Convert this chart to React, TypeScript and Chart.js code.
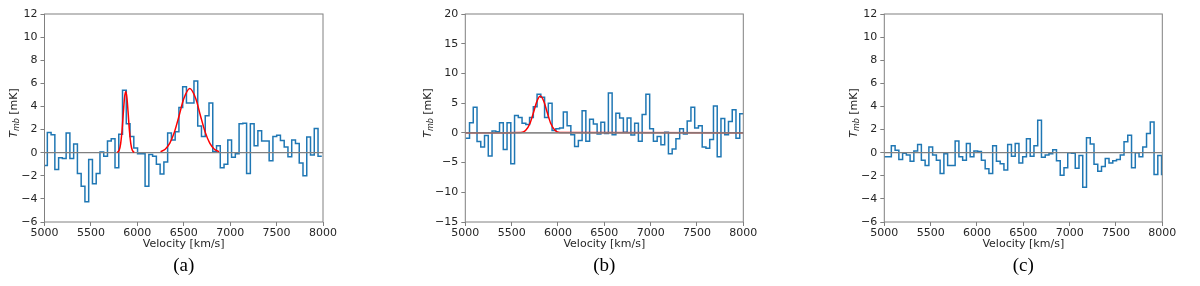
import React, { useEffect, useRef } from "react";
import { Chart, registerables } from "chart.js";

Chart.register(...registerables);

// ---------------- data ----------------
const velocityTicks = [5000, 5500, 6000, 6500, 7000, 7500, 8000];
const velMin = 5000;
const velMax = 8000;
const channelWidth = 40.5; // km/s per spectral channel

// first channel left edge (km/s)
const channelStartA = 4990;
const channelStartB = 5005;
const channelStartC = 4995;

// Tmb [mK] per channel
const tmbA = [
  -1.1, 1.75, 1.55, -1.45, -0.45, -0.5, 1.7, -0.5, 0.75, -1.8,
  -2.9, -4.25, -0.6, -2.7, -1.8, 0.05, -0.3, 1.0, 1.2, -1.3,
  1.6, 5.4, 2.5, 1.4, 0.4, -0.1, -0.1, -2.9, -0.15, -0.3,
  -1.0, -1.85, -0.8, 1.7, 1.1, 1.8, 3.9, 5.7, 4.3, 4.3,
  6.2, 2.3, 1.4, 3.2, 4.3, 0.1, 0.6, -1.3, -1.0, 1.1,
  -0.4, -0.1, 2.5, 2.55, -1.8, 2.5, 0.6, 1.9, 1.0, 1.0,
  -0.7, 1.4, 1.5, 1.05, 0.5, -0.35, 1.1, 0.8, -0.9, -2.0,
  1.35, -0.2, 2.1, -0.3,
];

const tmbB = [
  -0.9, 1.7, 4.3, -1.45, -2.4, -0.45, -3.9, 0.3, 0.2, 1.7,
  -2.8, 1.7, -5.2, 2.9, 2.6, 1.6, 1.4, 2.6, 4.4, 6.5,
  6.0, 2.6, 5.0, 0.4, 0.7, 0.8, 3.5, 1.2, -0.3, -2.3,
  -1.3, 3.7, -1.4, 2.3, 1.5, -0.2, 1.8, -0.1, 6.7, -0.3,
  3.3, 2.5, 0.1, 2.5, -0.35, 1.6, -1.4, 3.1, 6.5, 0.7,
  -1.4, -0.6, -2.0, 0.1, -3.5, -2.7, -1.0, 0.7, -0.2, 2.0,
  4.3, 0.8, 1.2, -2.4, -2.6, -1.1, 4.5, -4.0, 2.4, -0.3,
  1.9, 3.9, -0.9, 3.2,
];

const tmbC = [
  -0.35, -0.35, 0.6, 0.2, -0.6, -0.05, -0.2, -0.75, 0.15, 0.7,
  -0.65, -1.1, 0.5, -0.2, -0.65, -1.8, -0.1, -1.1, -1.1, 1.0,
  -0.35, -0.65, 0.8, -0.35, 0.15, 0.1, -0.65, -1.4, -1.8, 0.6,
  -0.75, -0.95, -1.5, 0.7, -0.3, 0.8, -0.9, -0.35, 1.2, -0.3,
  0.6, 2.8, -0.4, -0.2, -0.1, 0.25, -0.7, -1.95, -1.3, 0.0,
  -0.05, -1.35, -0.25, -3.0, 1.3, 0.75, -1.0, -1.6, -1.2, -0.5,
  -0.9, -0.7, -0.6, -0.2, 0.95, 1.5, -1.3, 0.0, -0.35, 0.5,
  1.65, 2.65, -1.9, -0.25, -1.9,
];

// Gaussian fit curves
const fitA1Vel = [5785, 5805, 5820, 5835, 5850, 5862, 5875, 5888, 5900, 5915, 5930, 5945, 5965];
const fitA1Tmb = [0.02, 0.23, 0.77, 1.9, 3.55, 4.75, 5.3, 4.75, 3.55, 1.9, 0.77, 0.23, 0.02];
const fitA2Vel = [6250, 6300, 6350, 6400, 6450, 6500, 6565, 6630, 6680, 6730, 6780, 6830, 6880];
const fitA2Tmb = [0.09, 0.3, 0.82, 1.8, 3.2, 4.66, 5.55, 4.66, 3.2, 1.8, 0.82, 0.3, 0.09];
const fitBVel = [5000, 5600, 5650, 5700, 5740, 5770, 5810, 5850, 5880, 5920, 5970, 6020, 8000];
const fitBTmb = [0, 0.05, 0.39, 1.67, 3.65, 5.2, 6.2, 5.2, 3.65, 1.67, 0.39, 0.05, 0];

const yTicksA = [-6, -4, -2, 0, 2, 4, 6, 8, 10, 12];
const yTicksB = [-15, -10, -5, 0, 5, 10, 15, 20];
const yTicksC = [-6, -4, -2, 0, 2, 4, 6, 8, 10, 12];

const captions = ["(a)", "(b)", "(c)"];
const xTitle = "Velocity [km/s]";

// ---------------- styles / layout ----------------
const CANVAS_H = 286;
const PLOT_TOP = 14;
const PLOT_BOTTOM = 222;
const X_AXIS_H = 30;
const AXIS_GRAY = "#808080";
const TEXT_COLOR = "#262626";
const FONT_FAMILY = '"DejaVu Sans", sans-serif';
const STEP_BLUE = "#1f77b4";
const FIT_RED = "#ff0000";

type Fit = { vel: number[]; tmb: number[] };

type PanelCfg = {
  canvasLeft: number;
  canvasWidth: number;
  plotLeft: number;
  plotRight: number;
  yTitleX: number;
  start: number;
  values: number[];
  fits: Fit[];
  yTicks: number[];
  zeroOnTop: boolean;
  caption: string;
};

const panels: PanelCfg[] = [
  {
    canvasLeft: 0, canvasWidth: 350, plotLeft: 44.5, plotRight: 323, yTitleX: 12.5,
    start: channelStartA, values: tmbA,
    fits: [{ vel: fitA1Vel, tmb: fitA1Tmb }, { vel: fitA2Vel, tmb: fitA2Tmb }],
    yTicks: yTicksA, zeroOnTop: false, caption: captions[0],
  },
  {
    canvasLeft: 400, canvasWidth: 370, plotLeft: 65.3, plotRight: 343.3, yTitleX: 26.5,
    start: channelStartB, values: tmbB,
    fits: [{ vel: fitBVel, tmb: fitBTmb }],
    yTicks: yTicksB, zeroOnTop: true, caption: captions[1],
  },
  {
    canvasLeft: 820, canvasWidth: 370, plotLeft: 64.3, plotRight: 342.3, yTitleX: 32.5,
    start: channelStartC, values: tmbC,
    fits: [],
    yTicks: yTicksC, zeroOnTop: false, caption: captions[2],
  },
];

function stepPoints(start: number, values: number[]) {
  const pts = values.map((y, i) => ({ x: start + i * channelWidth, y }));
  pts.push({ x: start + values.length * channelWidth, y: values[values.length - 1] });
  return pts;
}

const frameAndTitlePlugin = {
  id: "frameAndTitle",
  afterDraw(chart: any, _args: any, opts: any) {
    const { ctx, chartArea } = chart;
    ctx.save();
    ctx.strokeStyle = AXIS_GRAY;
    ctx.lineWidth = 1;
    ctx.strokeRect(chartArea.left, chartArea.top, chartArea.right - chartArea.left, chartArea.bottom - chartArea.top);
    ctx.restore();

    // y-axis title: T_mb [mK]
    const cy = 113;
    ctx.save();
    ctx.translate(opts.x, cy);
    ctx.rotate(-Math.PI / 2);
    ctx.fillStyle = TEXT_COLOR;
    ctx.textBaseline = "alphabetic";
    const big = `italic 11px ${FONT_FAMILY}`;
    const small = `italic 8px ${FONT_FAMILY}`;
    const norm = `11px ${FONT_FAMILY}`;
    ctx.font = big;
    const wT = ctx.measureText("T").width;
    ctx.font = small;
    const wS = ctx.measureText("mb").width;
    ctx.font = norm;
    const wR = ctx.measureText(" [mK]").width;
    let x = -(wT + wS + wR) / 2;
    const base = 4;
    ctx.font = big;
    ctx.fillText("T", x, base);
    x += wT;
    ctx.font = small;
    ctx.fillText("mb", x, base + 2.5);
    x += wS;
    ctx.font = norm;
    ctx.fillText(" [mK]", x, base);
    ctx.restore();
  },
};

function Panel({ cfg }: { cfg: PanelCfg }) {
  const ref = useRef<HTMLCanvasElement | null>(null);

  useEffect(() => {
    if (!ref.current) return;
    const yMin = cfg.yTicks[0];
    const yMax = cfg.yTicks[cfg.yTicks.length - 1];
    const datasets: any[] = [
      {
        data: stepPoints(cfg.start, cfg.values),
        borderColor: STEP_BLUE,
        borderWidth: 1.5,
        pointRadius: 0,
        stepped: true,
        fill: false,
        order: 3,
      },
      {
        data: [{ x: velMin, y: 0 }, { x: velMax, y: 0 }],
        borderColor: cfg.zeroOnTop ? "rgba(128,128,128,0.9)" : AXIS_GRAY,
        borderWidth: cfg.zeroOnTop ? 1.7 : 1.3,
        pointRadius: 0,
        fill: false,
        order: cfg.zeroOnTop ? 0 : 2,
      },
      ...cfg.fits.map((f) => ({
        data: f.vel.map((v, i) => ({ x: v, y: f.tmb[i] })),
        borderColor: FIT_RED,
        borderWidth: 1.5,
        pointRadius: 0,
        cubicInterpolationMode: "monotone",
        fill: false,
        order: 1,
      })),
    ];

    const tickFont = { family: FONT_FAMILY, size: 11 };
    const chart = new Chart(ref.current, {
      type: "line",
      data: { datasets },
      plugins: [frameAndTitlePlugin],
      options: {
        animation: false,
        responsive: false,
        maintainAspectRatio: false,
        devicePixelRatio: 1,
        layout: {
          padding: {
            left: 0,
            right: cfg.canvasWidth - cfg.plotRight,
            top: PLOT_TOP,
            bottom: CANVAS_H - PLOT_BOTTOM - X_AXIS_H,
          },
        },
        plugins: {
          legend: { display: false },
          tooltip: { enabled: false },
          frameAndTitle: { x: cfg.yTitleX },
        } as any,
        scales: {
          x: {
            type: "linear",
            min: velMin,
            max: velMax,
            afterFit: (s: any) => {
              s.height = X_AXIS_H;
            },
            afterBuildTicks: (s: any) => {
              s.ticks = velocityTicks.map((v) => ({ value: v }));
            },
            ticks: {
              autoSkip: false,
              maxRotation: 0,
              padding: 1,
              color: TEXT_COLOR,
              font: tickFont,
              callback: (v: any) => String(v),
            },
            grid: {
              display: true,
              drawOnChartArea: false,
              drawTicks: true,
              tickLength: 4,
              color: AXIS_GRAY,
            },
            border: { display: false },
            title: {
              display: true,
              text: xTitle,
              color: TEXT_COLOR,
              font: tickFont,
              padding: { top: 0, bottom: 1 },
            },
          },
          y: {
            type: "linear",
            min: yMin,
            max: yMax,
            afterFit: (s: any) => {
              s.width = cfg.plotLeft;
            },
            afterBuildTicks: (s: any) => {
              s.ticks = cfg.yTicks.map((v) => ({ value: v }));
            },
            ticks: {
              autoSkip: false,
              padding: 3,
              color: TEXT_COLOR,
              font: tickFont,
              callback: (v: any) => String(v).replace("-", "\u2212"),
            },
            grid: {
              display: true,
              drawOnChartArea: false,
              drawTicks: true,
              tickLength: 4,
              color: AXIS_GRAY,
            },
            border: { display: false },
          },
        },
      } as any,
    });
    return () => chart.destroy();
  }, [cfg]);

  const center = cfg.canvasLeft + (cfg.plotLeft + cfg.plotRight) / 2;
  return (
    <>
      <canvas
        ref={ref}
        width={cfg.canvasWidth}
        height={CANVAS_H}
        style={{ position: "absolute", left: cfg.canvasLeft, top: 0, width: cfg.canvasWidth, height: CANVAS_H }}
      />
      <div
        style={{
          position: "absolute",
          left: center - 40,
          width: 80,
          top: 255,
          textAlign: "center",
          fontFamily: '"Liberation Serif", "DejaVu Serif", serif',
          fontSize: 19,
          lineHeight: "20px",
          color: "#000",
        }}
      >
        {cfg.caption}
      </div>
    </>
  );
}

export default function App() {
  useEffect(() => {
    document.body.style.margin = "0";
  }, []);
  return (
    <div style={{ position: "relative", width: 1200, height: CANVAS_H, background: "#fff", overflow: "hidden" }}>
      {panels.map((p, i) => (
        <Panel key={i} cfg={p} />
      ))}
    </div>
  );
}
